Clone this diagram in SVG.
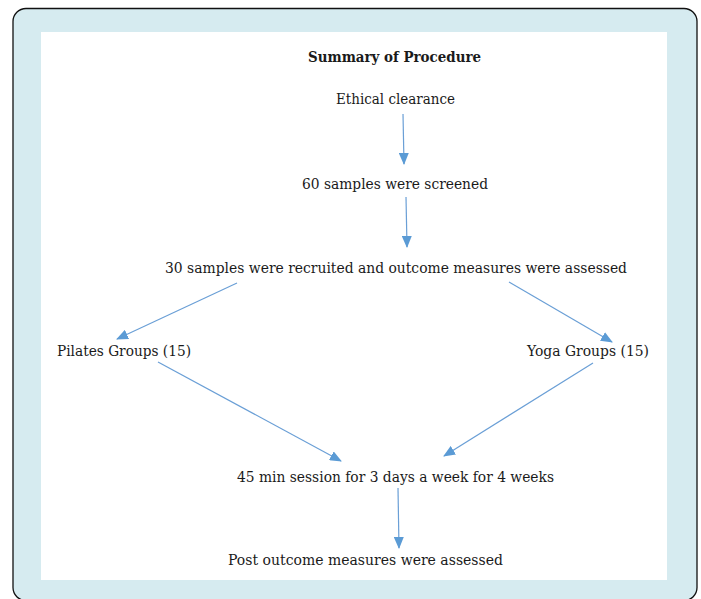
<svg xmlns="http://www.w3.org/2000/svg" width="701" height="599" viewBox="0 0 701 599">
<style>
.t{font-family:"DejaVu Serif","Liberation Serif",serif;font-size:15.3px;fill:#1a1a1a;text-anchor:middle}
.b{font-weight:bold}
.c{stroke:#6a9fd6;stroke-width:1.2;fill:none;marker-end:url(#ah)}
</style>
<defs>
<marker id="ah" markerWidth="12" markerHeight="10" refX="11" refY="5" orient="auto" markerUnits="userSpaceOnUse">
<path d="M0,0 L12,5 L0,10 Z" fill="#5b9bd5"/>
</marker>
</defs>
<rect x="13" y="8.5" width="684" height="592" rx="13" fill="#d6ebf0" stroke="#111" stroke-width="1.3"/>
<rect x="41" y="32" width="626" height="548" fill="#fff"/>
<g id="title"><text class="t b" x="394.5" y="61.5" textLength="173" lengthAdjust="spacingAndGlyphs">Summary of Procedure</text></g>
<g id="n1"><text class="t" x="395.5" y="104" textLength="119" lengthAdjust="spacingAndGlyphs">Ethical clearance</text></g>
<g id="n2"><text class="t" x="395" y="188.5" textLength="186" lengthAdjust="spacingAndGlyphs">60 samples were screened</text></g>
<g id="n3"><text class="t" x="396" y="272.5" textLength="462" lengthAdjust="spacingAndGlyphs">30 samples were recruited and outcome measures were assessed</text></g>
<g id="n4"><text class="t" x="124" y="356" textLength="134" lengthAdjust="spacingAndGlyphs">Pilates Groups (15)</text></g>
<g id="n5"><text class="t" x="588" y="356" textLength="122" lengthAdjust="spacingAndGlyphs">Yoga Groups (15)</text></g>
<g id="n6"><text class="t" x="395.5" y="481.5" textLength="317" lengthAdjust="spacingAndGlyphs">45 min session for 3 days a week for 4 weeks</text></g>
<g id="n7"><text class="t" x="365.5" y="564.5" textLength="275" lengthAdjust="spacingAndGlyphs">Post outcome measures were assessed</text></g>
<g id="connectors">
<line class="c" x1="403" y1="114" x2="404" y2="164"/>
<line class="c" x1="406" y1="197" x2="407" y2="247"/>
<line class="c" x1="237" y1="283" x2="117" y2="339"/>
<line class="c" x1="509" y1="282" x2="612" y2="342"/>
<line class="c" x1="158" y1="362" x2="341" y2="461"/>
<line class="c" x1="593" y1="363" x2="444" y2="456"/>
<line class="c" x1="398" y1="488" x2="399" y2="548"/>
</g>
</svg>
